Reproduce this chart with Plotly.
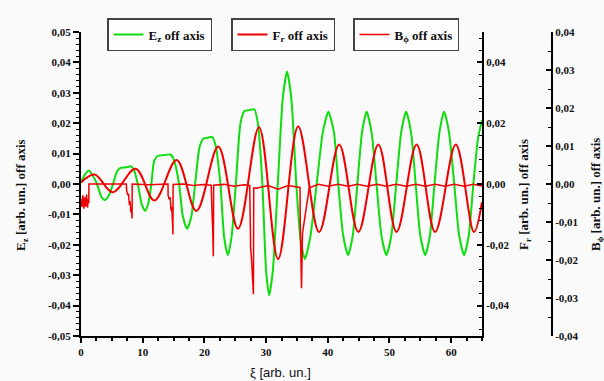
import plotly.graph_objects as go

# ---------------- data ----------------
xi_ez = [0.0, 0.6, 1.25, 1.9, 2.6, 3.3, 3.85, 4.5, 5.2, 5.85, 6.4, 7.3, 8.1, 8.6, 9.2, 9.85, 10.4, 10.9,
         11.4, 11.85, 12.4, 13.4, 14.5, 15.05, 15.9, 16.5, 17.2, 17.9, 18.5, 19.2, 19.8, 20.5, 21.25, 21.8,
         22.6, 23.2, 23.8, 24.4, 25.1, 25.85, 26.5, 27.3, 28.1, 28.7, 29.4, 30.0, 30.5, 31.1, 31.9, 32.7,
         33.4, 34.1, 34.9, 35.6, 36.3, 37.2, 38.2, 39.2, 40.1, 41.0, 41.7, 42.5, 43.3, 44.05, 44.8, 45.55,
         46.3, 47.1, 47.9, 48.7, 49.5, 50.3, 51.1, 51.9, 52.7, 53.5, 54.25, 55.0, 55.8, 56.55, 57.3, 58.1,
         58.85, 59.65, 60.5, 61.3, 62.1, 62.85, 63.6, 64.35, 65.0]
ez = [0.0005, 0.0030, 0.0044, 0.0028, 0.0, -0.0042, -0.0053, -0.0038, 0.0, 0.0042, 0.0053, 0.0055, 0.0058,
      0.0046, 0.0, -0.0068, -0.0088, -0.0065, 0.0, 0.0075, 0.0092, 0.0095, 0.0097, 0.0080, 0.0, -0.0105,
      -0.0147, -0.0105, 0.0, 0.0120, 0.0149, 0.0152, 0.0155, 0.0128, 0.0, -0.0175, -0.0234, -0.0175, 0.0,
      0.0200, 0.0240, 0.0243, 0.0246, 0.0195, 0.0, -0.0285, -0.0366, -0.0285, 0.0, 0.0280, 0.0370, 0.0280,
      0.0, -0.0185, -0.0247, -0.0170, 0.0, 0.0170, 0.0238, 0.0170, 0.0, -0.0170, -0.0234, -0.0170, 0.0,
      0.0170, 0.0238, 0.0170, 0.0, -0.0170, -0.0234, -0.0170, 0.0, 0.0170, 0.0238, 0.0170, 0.0, -0.0170,
      -0.0234, -0.0170, 0.0, 0.0170, 0.0238, 0.0170, 0.0, -0.0170, -0.0234, -0.0170, 0.0, 0.0150, 0.0210]

xi_fr = [0.0, 2.2, 5.15, 8.85, 11.9, 15.5, 18.7, 22.25, 25.45, 28.85, 31.95, 35.2, 38.6, 41.85, 44.95,
         48.2, 51.15, 54.4, 57.4, 60.75, 63.7, 65.0]
fr = [0.0005, 0.0031, -0.0027, 0.0050, -0.0054, 0.0079, -0.0089, 0.0123, -0.0147, 0.0187, -0.0247,
      0.0189, -0.0158, 0.0130, -0.0158, 0.0130, -0.0158, 0.0130, -0.0158, 0.0130, -0.0158, -0.0060]

xi_bphi = [0.0, 0.15, 0.3, 0.45, 0.6, 0.75, 0.9, 1.05, 1.2, 1.27, 1.28, 4.0, 7.35, 7.4, 7.6, 7.7, 7.85,
           7.95, 8.1, 8.2, 8.28, 8.3, 11.0, 14.1, 14.12, 14.3, 14.45, 14.6, 14.7, 14.85, 14.9, 14.93, 16.6,
           18.2, 19.8, 21.1, 21.12, 21.25, 21.35, 21.45, 21.5, 23.2, 24.8, 26.4, 27.35, 27.37, 27.5, 27.65,
           27.8, 27.95, 28.0, 28.4, 30.3, 31.95, 33.6, 35.5, 35.55, 35.75, 35.9, 36.5, 37.0, 38.5, 40.1,
           41.7, 43.3, 44.8, 46.4, 48.0, 49.5, 51.1, 52.7, 54.3, 55.8, 57.4, 59.0, 60.5, 62.1, 63.6, 65.0]
bphi = [-0.0040, -0.0060, -0.0030, -0.0065, -0.0035, -0.0060, -0.0028, -0.0062, -0.0040, -0.0050, 0.0,
        0.0, 0.0, -0.0018, -0.0030, -0.0025, -0.0055, -0.0045, -0.0075, -0.0068, -0.0091, 0.0, -0.0002,
        0.0, -0.0030, -0.0040, -0.0035, -0.0070, -0.0060, -0.0105, -0.0133, -0.0001, 0.0, -0.0004, -0.0001,
        -0.0003, -0.0040, -0.0080, -0.0120, -0.0190, -0.0003, -0.0001, -0.0006, -0.0002, -0.0004, -0.0050,
        -0.0170, -0.0200, -0.0240, -0.0290, -0.0010, -0.0011, -0.0004, -0.0014, -0.0004, -0.0009, -0.0120,
        -0.0274, -0.0130, -0.0060, -0.0010, -0.0001, -0.0006, -0.0001, -0.0006, -0.0001, -0.0006, -0.0001,
        -0.0006, -0.0001, -0.0006, -0.0001, -0.0006, -0.0001, -0.0006, -0.0001, -0.0006, -0.0001, -0.0005]

xi_ticks = [0, 10, 20, 30, 40, 50, 60]
ez_ticks = [-0.05, -0.04, -0.03, -0.02, -0.01, 0.0, 0.01, 0.02, 0.03, 0.04, 0.05]
ez_labels = ['-0,05', '-0,04', '-0,03', '-0,02', '-0,01', '0,00', '0,01', '0,02', '0,03', '0,04', '0,05']
fr_ticks = [-0.04, -0.02, 0.0, 0.02, 0.04]
fr_labels = ['-0,04', '-0,02', '0,00', '0,02', '0,04']
bphi_ticks = [-0.04, -0.03, -0.02, -0.01, 0.0, 0.01, 0.02, 0.03, 0.04]
bphi_labels = ['-0,04', '-0,03', '-0,02', '-0,01', '0,00', '0,01', '0,02', '0,03', '0,04']

# ---------------- figure ----------------
GREEN = '#10dc10'
RED = '#f00000'
tickfont = dict(family='Liberation Serif', size=11, color='#111', weight='bold')
titlefont = dict(family='Liberation Serif', size=13, color='#111', weight='bold')
legfont = dict(family='Liberation Serif', size=13, color='#111', weight='bold')

fig = go.Figure()
fig.add_trace(go.Scatter(x=xi_ez, y=ez, mode='lines', name='E<sub>z</sub> off axis',
                         line=dict(color=GREEN, width=2, shape='spline', smoothing=0.6),
                         yaxis='y', legend='legend'))
fig.add_trace(go.Scatter(x=xi_fr, y=fr, mode='lines', name='F<sub>r</sub> off axis',
                         line=dict(color=RED, width=2, shape='spline', smoothing=1.0),
                         yaxis='y2', legend='legend2'))
fig.add_trace(go.Scatter(x=xi_bphi, y=bphi, mode='lines', name='B<sub>ϕ</sub> off axis',
                         line=dict(color=RED, width=1.5),
                         yaxis='y3', legend='legend3'))

W, H = 604, 381
L, R, T, B = 81, 40, 32, 45
pw = W - L - R
ph = H - T - B
xdom = (482 - L) / pw

def px_x(px):
    return (px - L) / pw

def px_y(py):
    return (H - B - py) / ph

axis_common = dict(showline=True, linecolor='black', linewidth=2, showgrid=False, zeroline=False,
                   tickcolor='black', tickwidth=1.5, tickfont=tickfont)

fig.update_layout(
    width=W, height=H,
    margin=dict(l=L, r=R, t=T, b=B),
    paper_bgcolor='#fafafa', plot_bgcolor='#fafafa',
    separators=', ',
    xaxis=dict(range=[0, 65], domain=[0, xdom], tickvals=xi_ticks, ticks='outside', ticklen=5,
               minor=dict(dtick=2.5, ticks='outside', ticklen=3, tickcolor='black', tickwidth=1.5),
               **axis_common),
    yaxis=dict(range=[-0.05, 0.05], tickvals=ez_ticks, ticktext=ez_labels, ticks='outside', ticklen=6,
               minor=dict(dtick=0.002, ticks='outside', ticklen=3, tickcolor='black', tickwidth=1),
               **axis_common),
    yaxis2=dict(range=[-0.05, 0.05], overlaying='y', side='right', anchor='x', tickvals=fr_ticks,
                ticktext=fr_labels, ticks='inside', ticklen=5,
                minor=dict(dtick=0.004, ticks='inside', ticklen=3, tickcolor='black', tickwidth=1),
                **axis_common),
    yaxis3=dict(range=[-0.04, 0.04], overlaying='y', side='right', anchor='free',
                position=px_x(552), tickvals=bphi_ticks, ticktext=bphi_labels, ticks='inside', ticklen=5,
                minor=dict(dtick=0.005, ticks='inside', ticklen=3, tickcolor='black', tickwidth=1),
                **axis_common),
    showlegend=True,
    legend=dict(x=px_x(107), y=px_y(18), xanchor='left', yanchor='top', orientation='h',
                bordercolor='#444', borderwidth=1.5, bgcolor='rgba(255,255,255,0.6)', font=legfont),
    legend2=dict(x=px_x(231), y=px_y(18), xanchor='left', yanchor='top', orientation='h',
                 bordercolor='#444', borderwidth=1.5, bgcolor='rgba(255,255,255,0.6)', font=legfont),
    legend3=dict(x=px_x(353), y=px_y(18), xanchor='left', yanchor='top', orientation='h',
                 bordercolor='#444', borderwidth=1.5, bgcolor='rgba(255,255,255,0.6)', font=legfont),
    annotations=[
        dict(text='E<sub>z</sub> [arb. un.] off axis', xref='paper', yref='paper', x=px_x(22), y=px_y(195),
             textangle=-90, showarrow=False, font=titlefont, xanchor='center', yanchor='middle'),
        dict(text='F<sub>r</sub> [arb. un.] off axis', xref='paper', yref='paper', x=px_x(525), y=px_y(195),
             textangle=-90, showarrow=False, font=titlefont, xanchor='center', yanchor='middle'),
        dict(text='B<sub>ϕ</sub> [arb. un.] off axis', xref='paper', yref='paper', x=px_x(597), y=px_y(195),
             textangle=-90, showarrow=False, font=titlefont, xanchor='center', yanchor='middle'),
        dict(text='ξ [arb. un.]', xref='paper', yref='paper', x=px_x(280.5), y=px_y(372.5),
             showarrow=False, font=dict(family='Liberation Sans', size=13, color='#111'),
             xanchor='center', yanchor='middle'),
    ],
)

fig.write_html('out.html')
